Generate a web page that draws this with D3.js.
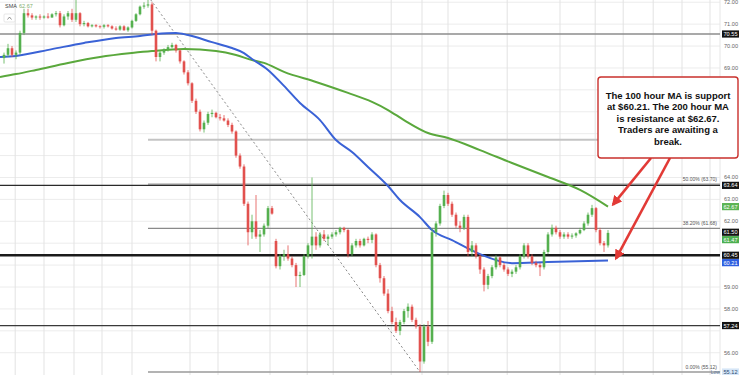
<!DOCTYPE html>
<html>
<head>
<meta charset="utf-8">
<script src="https://cdn.jsdelivr.net/npm/d3@7/dist/d3.min.js"></script>
<style>
  body { margin: 0; background: #fff; }
  svg { display: block; font-family: "Liberation Sans", Arial, sans-serif; }
</style>
</head>
<body>
<svg id="chart" width="750" height="375"></svg>
<script>
// Hourly candles, [open, high, low, close]
const candles = [
  [69.45,69.7,69.2,69.6],[69.6,70.1,69.5,69.9],[69.9,70.0,69.5,69.6],[69.6,69.8,69.4,69.7],
  [69.7,70.7,69.6,70.6],[70.6,71.7,70.5,71.5],[71.5,71.7,71.3,71.4],[71.4,71.5,71.2,71.3],
  [71.3,71.4,71.2,71.35],[71.35,71.45,71.2,71.3],[71.3,71.4,71.25,71.35],[71.35,71.5,71.25,71.3],
  [71.3,71.5,71.3,71.45],[71.45,71.6,71.35,71.5],[71.5,71.6,70.85,70.95],[70.95,71.45,70.9,71.35],
  [71.35,71.6,71.2,71.5],[71.5,71.7,71.1,71.2],[71.2,72.1,71.1,71.5],[71.5,71.55,70.9,71.0],
  [71.0,71.15,70.9,71.05],[71.05,71.1,70.85,70.9],[70.9,71.0,70.85,70.95],[70.95,71.0,70.85,70.9],
  [70.9,70.95,70.8,70.88],[70.88,71.0,70.8,70.95],[70.95,71.0,70.85,70.9],[70.9,70.95,70.75,70.8],
  [70.8,70.9,70.7,70.75],[70.75,70.95,70.7,70.9],[70.9,70.95,70.7,70.72],[70.72,70.9,70.65,70.85],
  [70.85,71.2,70.8,71.15],[71.15,71.5,71.1,71.45],[71.45,71.85,71.4,71.8],[71.8,72.0,71.7,71.85],
  [71.85,72.28,71.75,71.9],[71.9,72.0,70.5,70.7],[70.7,70.75,69.3,69.5],[69.5,69.8,69.3,69.7],
  [69.7,69.9,69.6,69.85],[69.85,70.05,69.75,69.95],[69.95,70.15,69.9,70.05],[70.05,70.1,69.7,69.8],
  [69.8,69.85,69.2,69.3],[69.3,69.35,68.7,68.8],[68.8,68.9,68.2,68.3],[68.3,68.35,67.4,67.5],
  [67.5,67.6,66.9,67.0],[67.0,67.1,66.1,66.2],[66.2,66.6,66.05,66.5],[66.5,67.0,66.4,66.9],
  [66.9,67.1,66.75,66.95],[66.95,67.0,66.7,66.75],[66.75,66.9,66.6,66.7],[66.7,66.85,66.55,66.6],
  [66.6,66.7,66.3,66.4],[66.4,66.5,66.0,66.1],[66.1,66.15,64.9,65.0],[65.0,65.1,64.4,64.5],
  [64.5,64.6,62.7,62.8],[62.8,62.9,60.9,61.5],[61.5,62.3,61.2,62.0],[62.0,63.2,61.2,61.3],
  [61.3,61.6,60.6,61.4],[61.4,61.9,61.3,61.8],[61.8,62.7,61.7,62.6],[62.6,62.7,62.3,62.35],
  [61.1,61.2,59.85,59.95],[59.95,60.5,59.8,60.4],[60.4,60.7,60.2,60.5],[60.5,60.9,60.2,60.3],
  [60.3,60.4,59.9,60.0],[60.0,60.1,59.0,59.5],[59.5,59.7,59.0,59.55],[59.55,60.5,59.5,60.4],
  [60.4,61.0,60.3,60.9],[60.9,64.0,60.3,61.3],[61.3,61.5,60.7,60.9],[60.9,61.5,60.8,61.4],
  [61.4,61.6,61.1,61.2],[61.2,61.4,60.9,61.3],[61.3,61.5,61.2,61.4],[61.4,61.6,61.3,61.5],
  [61.5,61.75,61.4,61.7],[61.7,61.75,61.5,61.6],[61.6,61.65,60.35,60.5],[60.5,61.0,60.4,60.9],
  [60.9,61.2,60.8,61.1],[61.1,61.2,60.8,60.9],[60.9,61.25,60.85,61.2],[61.2,61.3,61.0,61.15],
  [61.15,61.5,61.0,61.4],[61.4,61.45,59.9,60.0],[60.0,60.1,59.2,59.4],[59.4,59.5,58.6,58.7],
  [58.7,58.9,57.8,57.9],[57.9,58.1,57.3,57.4],[57.4,57.6,56.9,57.0],[57.0,57.5,56.8,57.4],
  [57.4,58.0,57.3,57.9],[57.9,58.25,57.6,58.1],[58.1,58.2,57.4,57.5],[57.5,57.6,57.1,57.2],
  [57.2,57.3,55.12,55.6],[55.6,57.3,55.5,57.2],[57.2,57.45,56.3,56.5],[56.5,61.7,56.4,61.5],
  [61.5,62.0,61.3,61.9],[61.9,62.8,61.8,62.7],[62.7,63.4,62.6,63.2],[63.2,63.3,62.7,62.8],
  [62.8,62.9,62.2,62.3],[62.3,62.4,61.7,61.8],[61.8,62.0,61.5,61.7],[61.7,62.3,61.6,62.2],
  [62.2,62.3,60.4,60.6],[60.6,61.1,60.4,60.9],[60.9,61.0,60.3,60.4],[60.4,60.5,59.6,59.8],
  [59.8,59.9,58.8,59.1],[59.1,59.6,58.9,59.5],[59.5,60.0,59.4,59.9],[59.9,60.45,59.8,60.35],
  [60.35,60.4,59.9,60.0],[60.0,60.1,59.7,59.8],[59.8,59.9,59.5,59.6],[59.6,59.8,59.45,59.7],
  [59.7,60.0,59.6,59.9],[59.9,60.5,59.8,60.4],[60.4,61.0,60.3,60.9],[60.9,61.0,60.3,60.4],
  [60.4,60.5,60.0,60.1],[60.1,60.2,59.9,60.0],[60.0,60.1,59.5,59.9],[59.9,60.7,59.8,60.6],
  [60.6,61.5,60.5,61.4],[61.4,61.85,61.3,61.7],[61.7,61.8,61.4,61.5],[61.5,61.6,61.2,61.3],
  [61.3,61.5,61.2,61.4],[61.4,61.5,61.2,61.3],[61.3,61.45,61.2,61.35],[61.35,61.5,61.25,61.45],
  [61.45,61.7,61.4,61.6],[61.6,62.0,61.55,61.9],[61.9,62.4,61.8,62.3],[62.3,62.75,62.2,62.6],
  [62.6,62.65,61.5,61.6],[61.6,61.7,60.9,61.0],[61.0,61.1,60.6,60.9],[60.9,61.6,60.8,61.47]
];

// 100 hour MA, [candle index, value]
const ma100 = [
  [-1,69.50],[3,69.55],[12,69.86],[20,70.14],[28,70.37],[34,70.46],[38,70.55],[43,70.60],
  [46,70.50],[52,70.18],[57,69.91],[60,69.68],[62,69.41],[66,68.91],[70,68.18],[74,67.40],
  [79,66.62],[83,65.71],[87,65.16],[91,64.48],[96,63.61],[99,62.97],[104,62.19],[107,61.60],
  [112,61.14],[119,60.50],[127,60.09],[136,60.14],[151,60.21]
];

// 200 hour MA, [candle index, value]
const ma200 = [
  [-1,68.59],[3,68.72],[8,68.91],[16,69.23],[24,69.50],[32,69.68],[37,69.77],[45,69.86],
  [53,69.77],[58,69.59],[62,69.36],[65,69.23],[70,68.82],[78,68.36],[86,67.86],[92,67.45],
  [96,67.08],[100,66.62],[106,66.03],[111,65.80],[119,65.25],[127,64.66],[136,64.02],
  [144,63.43],[151,62.67]
];

const priceTicks = [56, 57, 58, 59, 60, 61, 62, 63, 64, 65, 66, 67, 68, 69, 70, 71, 72];
const timeGrid = [2.8, 10, 17.5, 24.5, 32, 46.5, 53.5, 66.5, 75.8, 82.3, 96.8, 104.5, 111, 125.8, 139, 147.8, 154.8, 162.3, 169.5, 176.5];

const levelLines = [70.55, 63.64, 60.45, 57.24];
const fibLevels = [
  { pct: "0.00%", value: 55.12 },
  { pct: "38.20%", value: 61.68 },
  { pct: "50.00%", value: 63.70 },
  { pct: "61.80%", value: 65.72 }
];
const swingHigh = { i: 36, value: 72.28 };
const swingLow = { i: 104, value: 55.12 };

const priceTags = [
  { value: 70.55, kind: "line" }, { value: 63.64, kind: "line" }, { value: 62.67, kind: "ma200" },
  { value: 61.50, kind: "line" }, { value: 61.47, kind: "last" }, { value: 60.45, kind: "line" },
  { value: 60.21, kind: "ma100" }, { value: 57.24, kind: "line" }, { value: 55.12, kind: "low" }
];

const noteLines = [
  "The 100 hour MA is support",
  "at $60.21. The 200 hour MA",
  "is resistance at $62.67.",
  "Traders are awaiting a",
  "break."
];

const svg = d3.select("#chart");
const plotRight = 720;
const note = { x: 598, y: 77, w: 140, h: 81 };

const x = d3.scaleLinear().domain([0, 151]).range([4, 608]);
const y = d3.scaleLinear().domain([55.12, 70.55]).range([372, 34]);

const colUp = "#55b04f", colDown = "#e2514e";

// grid
svg.append("g").selectAll("line").data(priceTicks).join("line")
  .attr("x1", 0).attr("x2", plotRight)
  .attr("y1", d => y(d)).attr("y2", d => y(d))
  .attr("stroke", "#ececec").attr("stroke-width", 1);
svg.append("g").selectAll("line").data(timeGrid).join("line")
  .attr("x1", d => x(d)).attr("x2", d => x(d))
  .attr("y1", 0).attr("y2", 375)
  .attr("stroke", "#e3e3e3").attr("stroke-width", 1);
svg.append("line").attr("x1", plotRight).attr("x2", plotRight)
  .attr("y1", 0).attr("y2", 375).attr("stroke", "#e6e6e6");

// fib retracement lines
const fibStyle = { "0.00%": ["#9a9a9a", 1.3], "38.20%": ["#8a8a8a", 1.2], "50.00%": ["#9a9a9a", 1.2], "61.80%": ["#c4c4c4", 2] };
svg.append("g").selectAll("line").data(fibLevels).join("line")
  .attr("x1", x(swingHigh.i)).attr("x2", plotRight)
  .attr("y1", d => y(d.value)).attr("y2", d => y(d.value))
  .attr("stroke", d => fibStyle[d.pct][0]).attr("stroke-width", d => fibStyle[d.pct][1]);

// horizontal levels
const lineStyle = { 70.55: ["#8c8c8c", 1.5], 63.64: ["#2a2a2a", 1.3], 60.45: ["#1a1a1a", 2.4], 57.24: ["#3a3a3a", 1.3] };
svg.append("g").selectAll("line").data(levelLines).join("line")
  .attr("x1", 0).attr("x2", plotRight)
  .attr("y1", d => y(d)).attr("y2", d => y(d))
  .attr("stroke", d => lineStyle[d][0]).attr("stroke-width", d => lineStyle[d][1]);

// dotted trend line high -> low
svg.append("line")
  .attr("x1", x(swingHigh.i)).attr("y1", y(swingHigh.value))
  .attr("x2", x(swingLow.i)).attr("y2", y(swingLow.value))
  .attr("stroke", "#888").attr("stroke-width", 1).attr("stroke-dasharray", "2,2.5");

// moving averages
const maLine = d3.line().x(d => x(d[0])).y(d => y(d[1])).curve(d3.curveMonotoneX);
svg.append("path").datum(ma200).attr("d", maLine)
  .attr("fill", "none").attr("stroke", "#5aa83c").attr("stroke-width", 2);
svg.append("path").datum(ma100).attr("d", maLine)
  .attr("fill", "none").attr("stroke", "#3a62d6").attr("stroke-width", 2);

// candles
const cg = svg.append("g");
cg.selectAll("line").data(candles).join("line")
  .attr("x1", (d, i) => x(i)).attr("x2", (d, i) => x(i))
  .attr("y1", d => y(d[1])).attr("y2", d => y(d[2]))
  .attr("stroke", d => d[3] >= d[0] ? colUp : colDown).attr("stroke-width", 0.8);
cg.selectAll("rect").data(candles).join("rect")
  .attr("x", (d, i) => x(i) - 1.3).attr("width", 2.6)
  .attr("y", d => y(Math.max(d[0], d[3])))
  .attr("height", d => Math.max(0.8, Math.abs(y(d[0]) - y(d[3]))))
  .attr("fill", d => d[3] >= d[0] ? colUp : colDown);

// fib labels (61.8% one sits under the note box)
svg.append("g").selectAll("text").data(fibLevels.filter(d => d.pct !== "61.80%")).join("text")
  .attr("x", 717).attr("y", d => y(d.value) - 3.5)
  .attr("text-anchor", "end").attr("font-size", 5).attr("fill", "#555")
  .text(d => `${d.pct} (${d.value.toFixed(2)})`);

// price tags: stack them so they do not collide
const tagH = 7.2;
const tagPos = priceTags.map(d => ({ ...d, ty: y(d.value) })).sort((a, b) => a.ty - b.ty);
tagPos.forEach((d, i) => {
  if (i > 0 && d.ty < tagPos[i - 1].ty + tagH + 0.2) d.ty = tagPos[i - 1].ty + tagH + 0.2;
});

// price axis tick labels (skip ones hidden by tags or the note box)
const tickShown = priceTicks.filter(t =>
  !tagPos.some(p => Math.abs(p.ty - y(t)) < 6.5) &&
  !(y(t) > note.y - 3 && y(t) < note.y + note.h + 3));
svg.append("g").selectAll("text").data(tickShown).join("text")
  .attr("x", 731).attr("y", d => y(d) + 2)
  .attr("text-anchor", "middle").attr("font-size", 5.6).attr("fill", "#666")
  .text(d => d.toFixed(2));

const tagFill = { line: "#131313", ma200: "#5cb453", last: "#4caf50", ma100: "#2f5fe0", low: "#d6e6f7" };
const tags = svg.append("g").selectAll("g").data(tagPos).join("g")
  .attr("transform", d => `translate(722,${d.ty})`);
tags.append("rect").attr("x", 0).attr("y", -tagH / 2).attr("width", 17).attr("height", tagH)
  .attr("fill", d => tagFill[d.kind]);
tags.append("text").attr("x", 8.5).attr("y", 2)
  .attr("text-anchor", "middle").attr("font-size", 5.6)
  .attr("fill", d => d.kind === "low" ? "#2c4a70" : "#fff")
  .text(d => d.value.toFixed(2));
tags.filter(d => d.kind === "low").append("text")
  .attr("x", -2).attr("y", 2).attr("text-anchor", "end")
  .attr("font-size", 5).attr("fill", "#5a7aa0").text("Low");

// legend
svg.append("text").attr("x", 5).attr("y", 8).attr("font-size", 5.5).attr("fill", "#444").text("SMA");
svg.append("text").attr("x", 19).attr("y", 8).attr("font-size", 5.5).attr("fill", "#7fae6c").text("62.67");
svg.append("rect").attr("x", 4).attr("y", 14).attr("width", 11).attr("height", 8).attr("rx", 1)
  .attr("fill", "#fff").attr("stroke", "#ddd").attr("stroke-width", 0.7);
svg.append("path").attr("d", "M7.5,19.5 L9.5,17 L11.5,19.5").attr("fill", "none")
  .attr("stroke", "#666").attr("stroke-width", 0.7);

// annotation
const red = "#e23a36";
svg.append("defs").append("marker").attr("id", "head")
  .attr("viewBox", "0 0 10 10").attr("refX", 8).attr("refY", 5)
  .attr("markerWidth", 4).attr("markerHeight", 4).attr("orient", "auto")
  .append("path").attr("d", "M0,0 L10,5 L0,10 Z").attr("fill", red);

svg.append("line").attr("x1", 651).attr("y1", 158).attr("x2", x(151) + 5).attr("y2", y(62.67) - 2)
  .attr("stroke", red).attr("stroke-width", 2.6).attr("marker-end", "url(#head)");
svg.append("line").attr("x1", 670).attr("y1", 158).attr("x2", x(151) + 8).attr("y2", y(60.21) - 2)
  .attr("stroke", red).attr("stroke-width", 2.6).attr("marker-end", "url(#head)");

svg.append("rect").attr("x", note.x).attr("y", note.y).attr("width", note.w).attr("height", note.h).attr("rx", 3)
  .attr("fill", "#fff").attr("stroke", "#c9302c").attr("stroke-width", 1.4);
svg.append("g").selectAll("text").data(noteLines).join("text")
  .attr("x", note.x + note.w / 2).attr("y", (d, i) => 98.5 + i * 11.5)
  .attr("text-anchor", "middle").attr("font-size", 9.5).attr("font-weight", "bold")
  .attr("fill", "#111").text(d => d);
</script>
</body>
</html>
